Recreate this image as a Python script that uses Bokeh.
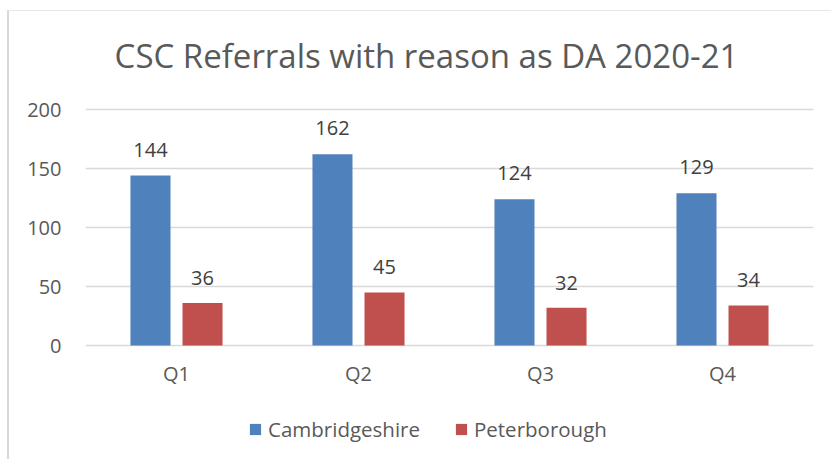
from bokeh.plotting import figure
from bokeh.models import Legend, LegendItem, ColumnDataSource, Label, FixedTicker
from bokeh.transform import dodge
from bokeh.core.properties import value
from bokeh.embed import file_html
from bokeh.resources import INLINE

quarters = ["Q1", "Q2", "Q3", "Q4"]
cambridgeshire = [144, 162, 124, 129]
peterborough = [36, 45, 32, 34]
series_names = ["Cambridgeshire", "Peterborough"]
y_ticks = [0, 50, 100, 150, 200]
title_text = "CSC Referrals with reason as DA 2020-21"

BLUE = "#4F81BD"
RED = "#C0504D"
TXT = "#595959"
FONT = "Open Sans"

# pixel geometry (page coords): value axis 0 at y=346, 200 at y=110
PX_PER_UNIT = 236 / 200
FRAME_TOP, FRAME_BOTTOM, ZERO_Y = 13, 456, 345
y_start = -(FRAME_BOTTOM - ZERO_Y) / PX_PER_UNIT
y_end = (ZERO_Y - FRAME_TOP) / PX_PER_UNIT

src = ColumnDataSource(data=dict(q=quarters, cam=cambridgeshire, pet=peterborough,
                                 cam_t=[str(v) for v in cambridgeshire],
                                 pet_t=[str(v) for v in peterborough],
                                 zero=[0] * len(quarters)))

p = figure(x_range=quarters, y_range=(y_start, y_end), width=824, height=449,
           output_backend="svg", toolbar_location=None, x_axis_location=None,
           min_border_left=76, min_border_right=20, min_border_top=2, min_border_bottom=4)
p.styles = {"margin-left": "7px", "margin-top": "10px",
            "border-left": "2px solid #d9d9d9", "border-top": "1px solid #e8e8e8"}
p.outline_line_color = None
p.background_fill_color = "white"
p.border_fill_color = "white"

r1 = p.vbar(x=dodge("q", -0.143, range=p.x_range), top="cam", width=0.22, source=src,
            fill_color=BLUE, line_color=None)
r2 = p.vbar(x=dodge("q", 0.143, range=p.x_range), top="pet", width=0.22, source=src,
            fill_color=RED, line_color=None)

p.text(x=dodge("q", -0.143, range=p.x_range), y="cam", text="cam_t", source=src,
       text_align="center", text_baseline="middle", y_offset=-26,
       text_font=value(FONT), text_font_size="20px", text_color="#404040")
p.text(x=dodge("q", 0.143, range=p.x_range), y="pet", text="pet_t", source=src,
       text_align="center", text_baseline="middle", y_offset=-25,
       text_font=value(FONT), text_font_size="20px", text_color="#404040")

# category labels under the axis
p.text(x="q", y="zero", text="q", source=src, text_align="center", text_baseline="middle",
       y_offset=28, text_font=value(FONT), text_font_size="20px", text_color=TXT)

p.xgrid.grid_line_color = None
p.ygrid.ticker = FixedTicker(ticks=y_ticks)
p.ygrid.grid_line_color = "#D9D9D9"
p.ygrid.grid_line_width = 1.5
p.yaxis.ticker = FixedTicker(ticks=y_ticks)

ax = p.yaxis[0]
ax.axis_line_color = None
ax.major_tick_line_color = None
ax.minor_tick_line_color = None
ax.major_label_text_font = FONT
ax.major_label_text_font_size = "20px"
ax.major_label_text_color = TXT
ax.major_label_standoff = 18

p.add_layout(Label(x=341, y=FRAME_BOTTOM - 55, x_units="screen", y_units="screen",
                   text=title_text, text_align="center", text_baseline="middle",
                   text_font=FONT, text_font_size="33px", text_color=TXT))

legend = Legend(items=[LegendItem(label=series_names[0], renderers=[r1]),
                       LegendItem(label=series_names[1], renderers=[r2])],
                location=(163, 13), orientation="horizontal",
                glyph_width=14, glyph_height=14, label_standoff=6, spacing=34,
                padding=0, margin=0, border_line_color=None, background_fill_alpha=0,
                label_text_font=FONT, label_text_font_size="20.5px", label_text_color=TXT,
                label_height=20)
p.add_layout(legend)

open("out.html", "w").write(file_html(p, INLINE))
